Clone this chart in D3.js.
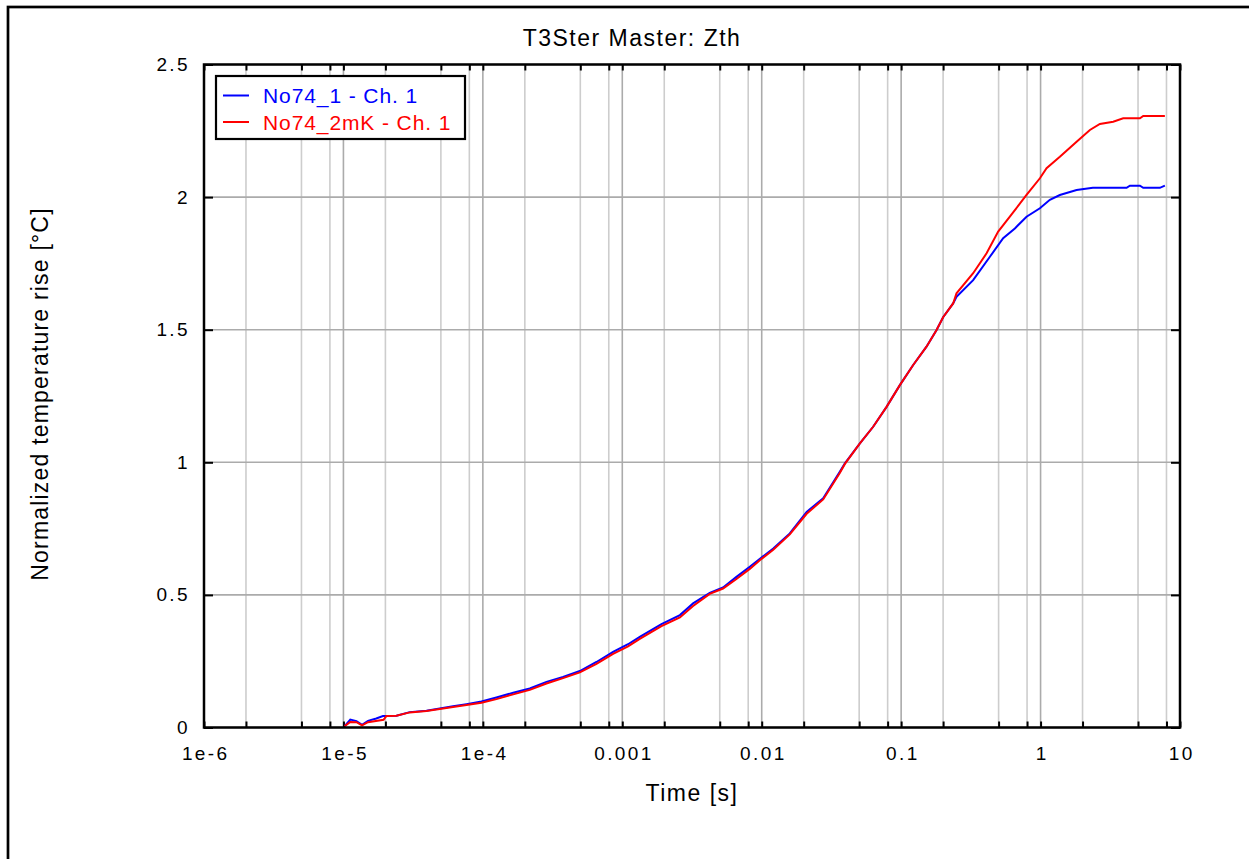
<!DOCTYPE html>
<html>
<head>
<meta charset="utf-8">
<script src="https://cdn.jsdelivr.net/npm/d3@7/dist/d3.min.js"></script>
<style>
  body { margin: 0; background: #fff; }
  svg { display: block; font-family: Arial, "Liberation Sans", sans-serif; }
</style>
</head>
<body>
<svg id="chart"></svg>
<script>
// values
var timeBlue = [1.02e-5, 1.12e-5, 1.24e-5, 1.36e-5, 1.5e-5, 1.72e-5, 1.92e-5, 2.4e-5, 2.99e-5, 3.94e-5,
    4.91e-5, 6.11e-5, 7.63e-5, 9.77e-5, 1.25e-4, 1.65e-4, 2.17e-4, 2.86e-4, 3.76e-4, 4.96e-4,
    6.53e-4, 8.59e-4, 1.1e-3, 1.335e-3, 1.91e-3, 2.59e-3, 3.22e-3, 4.24e-3, 5.28e-3, 6.59e-3,
    8.21e-3, 9.97e-3, 1.21e-2, 1.59e-2, 2.1e-2, 2.76e-2, 3.63e-2, 3.95e-2, 5.06e-2, 6.3e-2,
    7.86e-2, 9.79e-2, 0.122, 0.152, 0.1795, 0.2, 0.236, 0.2495, 0.3285, 0.433,
    0.539, 0.654, 0.793, 0.989, 1.166, 1.375, 1.813, 2.372, 4.14, 4.37,
    5.16, 5.45, 7.17, 7.79];
var zthBlue = [0.005, 0.030, 0.024, 0.010, 0.025, 0.034, 0.043, 0.044, 0.058, 0.063,
    0.072, 0.080, 0.088, 0.098, 0.113, 0.131, 0.147, 0.172, 0.191, 0.213,
    0.247, 0.285, 0.314, 0.342, 0.390, 0.424, 0.468, 0.508, 0.528, 0.568,
    0.606, 0.641, 0.675, 0.732, 0.813, 0.864, 0.964, 0.996, 1.071, 1.134,
    1.209, 1.291, 1.367, 1.436, 1.499, 1.547, 1.599, 1.624, 1.687, 1.775,
    1.845, 1.882, 1.926, 1.958, 1.990, 2.008, 2.027, 2.035, 2.035, 2.043,
    2.043, 2.035, 2.035, 2.043];

var timeRed = [1.02e-5, 1.12e-5, 1.24e-5, 1.36e-5, 1.5e-5, 1.94e-5, 2.03e-5, 2.4e-5, 2.99e-5, 3.94e-5,
    4.91e-5, 6.11e-5, 7.63e-5, 9.77e-5, 1.25e-4, 1.65e-4, 2.17e-4, 2.86e-4, 3.76e-4, 4.96e-4,
    6.53e-4, 8.59e-4, 1.1e-3, 1.335e-3, 1.91e-3, 2.59e-3, 3.22e-3, 4.24e-3, 5.28e-3, 6.59e-3,
    8.21e-3, 9.97e-3, 1.21e-2, 1.59e-2, 2.1e-2, 2.76e-2, 3.63e-2, 3.95e-2, 5.06e-2, 6.3e-2,
    7.86e-2, 9.79e-2, 0.122, 0.152, 0.1795, 0.2, 0.236, 0.2495, 0.3285, 0.41,
    0.4965, 0.602, 0.793, 0.989, 1.104, 1.375, 1.813, 2.258, 2.663, 3.318,
    3.913, 5.16, 5.45, 7.79];
var zthRed = [0.005, 0.021, 0.020, 0.008, 0.020, 0.029, 0.043, 0.044, 0.057, 0.062,
    0.070, 0.077, 0.085, 0.093, 0.107, 0.125, 0.142, 0.166, 0.186, 0.208,
    0.240, 0.278, 0.306, 0.334, 0.382, 0.415, 0.458, 0.504, 0.524, 0.560,
    0.598, 0.636, 0.670, 0.728, 0.806, 0.860, 0.960, 0.994, 1.071, 1.134,
    1.209, 1.291, 1.367, 1.436, 1.499, 1.547, 1.599, 1.637, 1.713, 1.788,
    1.870, 1.926, 2.008, 2.071, 2.109, 2.152, 2.209, 2.253, 2.276, 2.284,
    2.297, 2.297, 2.306, 2.306];

var seriesNames = ["No74_1 - Ch. 1", "No74_2mK - Ch. 1"];
var seriesColors = ["#0000ff", "#ff0000"];

var xTickValues = [1e-6, 1e-5, 1e-4, 1e-3, 1e-2, 1e-1, 1, 10];
var xTickLabels = ["1e-6", "1e-5", "1e-4", "0.001", "0.01", "0.1", "1", "10"];
var yTickValues = [0, 0.5, 1, 1.5, 2, 2.5];
var yTickLabels = ["0", "0.5", "1", "1.5", "2", "2.5"];

var width = 1249, height = 859;
var plot = { left: 204, top: 64.5, right: 1180, bottom: 727.5 };

var svg = d3.select("#chart")
    .attr("width", width)
    .attr("height", height);

// outer frame (runs past the right/bottom edge like the original)
svg.append("rect")
    .attr("x", 8)
    .attr("y", 7)
    .attr("width", 1260)
    .attr("height", 880)
    .attr("fill", "none")
    .attr("stroke", "#000")
    .attr("stroke-width", 2.7);

var x = d3.scaleLog()
    .domain([1e-6, 10])
    .range([plot.left, plot.right]);

var y = d3.scaleLinear()
    .domain([0, 2.5])
    .range([plot.bottom, plot.top]);

// minor positions 2,5,8 per decade
var minorX = [];
for (var e = -6; e < 1; e++) {
    [2, 5, 8].forEach(function(m) { minorX.push(m * Math.pow(10, e)); });
}

// grid
var grid = svg.append("g").attr("class", "grid");
grid.selectAll(".minor")
    .data(minorX)
    .enter()
    .append("line")
    .attr("x1", function(d) { return x(d); })
    .attr("x2", function(d) { return x(d); })
    .attr("y1", plot.top)
    .attr("y2", plot.bottom)
    .attr("stroke", "#cdcdcd")
    .attr("stroke-width", 1.6);

grid.selectAll(".major")
    .data(xTickValues)
    .enter()
    .append("line")
    .attr("x1", function(d) { return x(d); })
    .attr("x2", function(d) { return x(d); })
    .attr("y1", plot.top)
    .attr("y2", plot.bottom)
    .attr("stroke", "#ababab")
    .attr("stroke-width", 1.6);

grid.selectAll(".hline")
    .data(yTickValues)
    .enter()
    .append("line")
    .attr("x1", plot.left)
    .attr("x2", plot.right)
    .attr("y1", function(d) { return y(d); })
    .attr("y2", function(d) { return y(d); })
    .attr("stroke", "#ababab")
    .attr("stroke-width", 1.6);

// inward ticks
var allX = xTickValues.concat(minorX);
function tickStyle(g) {
    g.select(".domain").remove();
    g.selectAll("line").attr("stroke-width", 2);
}
svg.append("g")
    .attr("transform", "translate(0," + plot.bottom + ")")
    .call(d3.axisBottom(x).tickValues(allX).tickFormat("").tickSize(-6).tickSizeOuter(0))
    .call(tickStyle);
svg.append("g")
    .attr("transform", "translate(0," + plot.top + ")")
    .call(d3.axisTop(x).tickValues(allX).tickFormat("").tickSize(-6).tickSizeOuter(0))
    .call(tickStyle);
svg.append("g")
    .attr("transform", "translate(" + plot.left + ",0)")
    .call(d3.axisLeft(y).tickValues(yTickValues).tickFormat("").tickSize(-9).tickSizeOuter(0))
    .call(tickStyle);
svg.append("g")
    .attr("transform", "translate(" + plot.right + ",0)")
    .call(d3.axisRight(y).tickValues(yTickValues).tickFormat("").tickSize(-9).tickSizeOuter(0))
    .call(tickStyle);

// tick labels
function labelStyle(g) {
    g.select(".domain").remove();
    g.selectAll("text").attr("font-size", 19).attr("fill", "#000")
        .attr("font-family", "Arial, 'Liberation Sans', sans-serif")
        .style("letter-spacing", "2.4px");
}
svg.append("g")
    .attr("transform", "translate(1.2," + plot.bottom + ")")
    .call(d3.axisBottom(x).tickValues(xTickValues)
        .tickFormat(function(d, i) { return xTickLabels[i]; })
        .tickSize(0).tickPadding(19))
    .call(labelStyle);

svg.append("g")
    .attr("transform", "translate(" + plot.left + ",0)")
    .call(d3.axisLeft(y).tickValues(yTickValues)
        .tickFormat(function(d, i) { return yTickLabels[i]; })
        .tickSize(0).tickPadding(14))
    .call(labelStyle);

// curves
var line = d3.line()
    .x(function(d) { return x(d[0]); })
    .y(function(d) { return y(d[1]); });

var blueData = timeBlue.map(function(t, i) { return [t, zthBlue[i]]; });
var redData = timeRed.map(function(t, i) { return [t, zthRed[i]]; });

svg.append("path")
    .datum(blueData)
    .attr("d", line)
    .attr("fill", "none")
    .attr("stroke", seriesColors[0])
    .attr("stroke-width", 2);

svg.append("path")
    .datum(redData)
    .attr("d", line)
    .attr("fill", "none")
    .attr("stroke", seriesColors[1])
    .attr("stroke-width", 2);

// plot frame
svg.append("rect")
    .attr("x", plot.left)
    .attr("y", plot.top)
    .attr("width", plot.right - plot.left)
    .attr("height", plot.bottom - plot.top)
    .attr("fill", "none")
    .attr("stroke", "#000")
    .attr("stroke-width", 2.5);

// legend
var legend = svg.append("g").attr("transform", "translate(216,76)");
legend.append("rect")
    .attr("width", 249)
    .attr("height", 63)
    .attr("fill", "#fff")
    .attr("stroke", "#000")
    .attr("stroke-width", 2.2);

legend.selectAll(".item")
    .data(seriesNames)
    .enter()
    .append("g")
    .attr("transform", function(d, i) { return "translate(0," + (19.5 + i * 26.5) + ")"; })
    .each(function(d, i) {
        var g = d3.select(this);
        g.append("line")
            .attr("x1", 7).attr("x2", 33)
            .attr("stroke", seriesColors[i])
            .attr("stroke-width", 2);
        g.append("text")
            .attr("x", 47)
            .attr("dy", "0.36em")
            .attr("font-size", 21)
            .attr("fill", seriesColors[i])
            .style("letter-spacing", "0.9px")
            .text(d);
    });

// titles
svg.append("text")
    .attr("x", 632)
    .attr("y", 46)
    .attr("text-anchor", "middle")
    .attr("font-size", 23)
    .style("letter-spacing", "1.5px")
    .text("T3Ster Master: Zth");

svg.append("text")
    .attr("x", (plot.left + plot.right) / 2)
    .attr("y", 801)
    .attr("text-anchor", "middle")
    .attr("font-size", 23)
    .style("letter-spacing", "1.5px")
    .text("Time [s]");

svg.append("text")
    .attr("transform", "translate(48," + ((plot.top + plot.bottom) / 2 - 2) + ") rotate(-90)")
    .attr("text-anchor", "middle")
    .attr("font-size", 23)
    .style("letter-spacing", "1.2px")
    .text("Normalized temperature rise [°C]");
</script>
</body>
</html>
